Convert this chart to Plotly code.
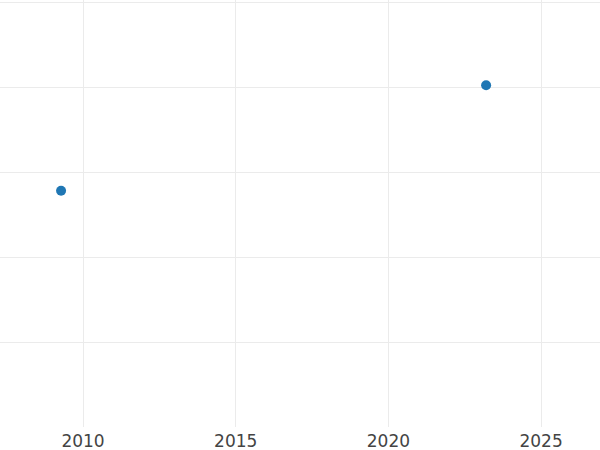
import plotly.graph_objects as go

years = [2009.28, 2023.2]
values = [2.78, 4.02]
x_ticks = [2010, 2015, 2020, 2025]
y_ticks = [1, 2, 3, 4, 5]

fig = go.Figure(go.Scatter(
    x=years, y=values, mode="markers",
    marker=dict(color="#1f77b4", size=10),
))

fig.update_layout(
    width=600, height=450,
    margin=dict(l=0, r=0, t=0, b=23, pad=0),
    plot_bgcolor="white", paper_bgcolor="white",
    showlegend=False,
    font=dict(family="DejaVu Sans", size=17, color="#444"),
)
fig.update_xaxes(
    range=[2007.28, 2026.93], tickvals=x_ticks,
    showgrid=True, gridcolor="#ebebeb", gridwidth=1,
    zeroline=False, showline=False, ticks="", automargin=False,
    ticklabelstandoff=2,
)
fig.update_yaxes(
    range=[0, 5.024], tickvals=y_ticks, showticklabels=False,
    showgrid=True, gridcolor="#ebebeb", gridwidth=1,
    zeroline=False, showline=False, ticks="", automargin=False,
)

fig.write_html(
    "out.html",
    config={"displayModeBar": False},
    post_script="document.body.style.margin='0';document.body.style.overflow='hidden';",
)
